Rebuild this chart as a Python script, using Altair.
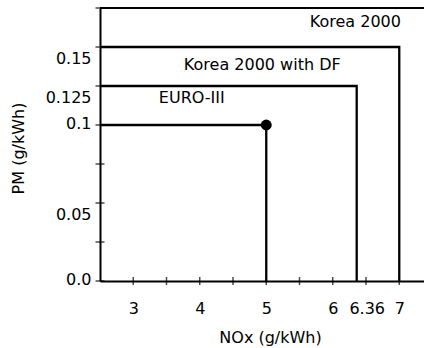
import altair as alt
import pandas as pd

# ---- data ----
standards = ["EURO-III", "Korea 2000 with DF", "Korea 2000"]
nox_limits = [5.0, 6.36, 7.0]
pm_limits = [0.10, 0.125, 0.15]

label_nox = [3.88, 4.94, 6.34]
label_pm = [0.117, 0.1385, 0.166]

dot_nox = [5.0]
dot_pm = [0.10]

x_tick_values = [3, 3.5, 4, 4.5, 5, 5.5, 6, 6.5, 7]
x_label_values = [3, 4, 5, 6, 6.36, 7]
y_tick_values = [0, 0.025, 0.05, 0.075, 0.1, 0.125, 0.15, 0.175]
y_label_values = [0, 0.05, 0.1, 0.125, 0.15]

X_MIN, X_MAX = 2.5, 7.372
Y_MIN, Y_MAX = 0.0, 0.175

FONT = "DejaVu Sans"
FS = 16

# ---- tables ----
rows = []
for s, nx, pm in zip(standards, nox_limits, pm_limits):
    rows.append({"std": s, "i": 0, "nox": X_MIN, "pm": pm})
    rows.append({"std": s, "i": 1, "nox": nx, "pm": pm})
    rows.append({"std": s, "i": 2, "nox": nx, "pm": Y_MIN})
boxes = pd.DataFrame(rows)

frame = pd.DataFrame({"nox": [X_MIN], "nox2": [X_MAX], "pm": [Y_MAX]})
labels = pd.DataFrame({"std": standards, "nox": label_nox, "pm": label_pm})
dot = pd.DataFrame({"nox": dot_nox, "pm": dot_pm})
xticks = pd.DataFrame({"nox": x_tick_values, "pm": [Y_MIN] * len(x_tick_values)})
yticks = pd.DataFrame({"nox": [X_MIN] * len(y_tick_values), "pm": y_tick_values})

xenc = alt.X(
    "nox:Q",
    scale=alt.Scale(domain=[X_MIN, X_MAX], nice=False, zero=False),
    axis=alt.Axis(
        values=x_label_values,
        labelExpr="'' + datum.value",
        title="NOx (g/kWh)",
        labelPadding=19,
        labelOffset={"condition": {"test": "datum.value == 6.36", "value": 10}, "value": 0},
        titleX=170,
        titleY=56,
        titleBaseline="middle",
    ),
)
yenc = alt.Y(
    "pm:Q",
    scale=alt.Scale(domain=[Y_MIN, Y_MAX], nice=False, zero=False),
    axis=alt.Axis(
        values=y_label_values,
        labelExpr="datum.value == 0 ? '0.0' : '' + datum.value",
        title="PM (g/kWh)",
        labelPadding=9,
        labelBaseline={"condition": {"test": "datum.value == 0.1 || datum.value == 0", "value": "middle"}, "value": "top"},
        labelOffset={"condition": {"test": "datum.value == 0.1 || datum.value == 0", "value": -2}, "value": 3},
        titleX=-82,
        titleY=140,
        titleBaseline="middle",
    ),
)

box_lines = alt.Chart(boxes).mark_line(color="black", strokeWidth=2.3).encode(
    x=xenc, y=yenc, detail="std:N", order="i:Q"
)

top_line = alt.Chart(frame).mark_rule(color="black", strokeWidth=2).encode(
    x=xenc, x2="nox2:Q", y=yenc
)

texts = alt.Chart(labels).mark_text(
    font=FONT, fontSize=FS, color="black", align="center", baseline="middle"
).encode(x=xenc, y=yenc, text="std:N")

point = alt.Chart(dot).mark_circle(color="black", opacity=1, size=120).encode(x=xenc, y=yenc)

xt = alt.Chart(xticks).mark_tick(orient="vertical", color="black", size=8, thickness=1.5).encode(x=xenc, y=yenc)
yt = alt.Chart(yticks).mark_tick(orient="horizontal", color="black", size=9, thickness=1.5).encode(x=xenc, y=yenc)

chart = (
    alt.layer(box_lines, top_line, xt, yt, point, texts)
    .properties(
        width=324,
        height=273,
        autosize=alt.AutoSizeParams(type="none"),
        padding={"left": 100, "top": 8, "right": 0, "bottom": 67},
    )
    .configure_view(stroke=None)
    .configure_axis(
        domainColor="black",
        domainWidth=2,
        grid=False,
        ticks=False,
        labelFont=FONT,
        labelFontSize=FS,
        labelColor="black",
        titleFont=FONT,
        titleFontSize=FS,
        titleFontWeight="normal",
        titleColor="black",
    )
)

chart.save("out.html", embed_options={"renderer": "svg", "actions": False})
